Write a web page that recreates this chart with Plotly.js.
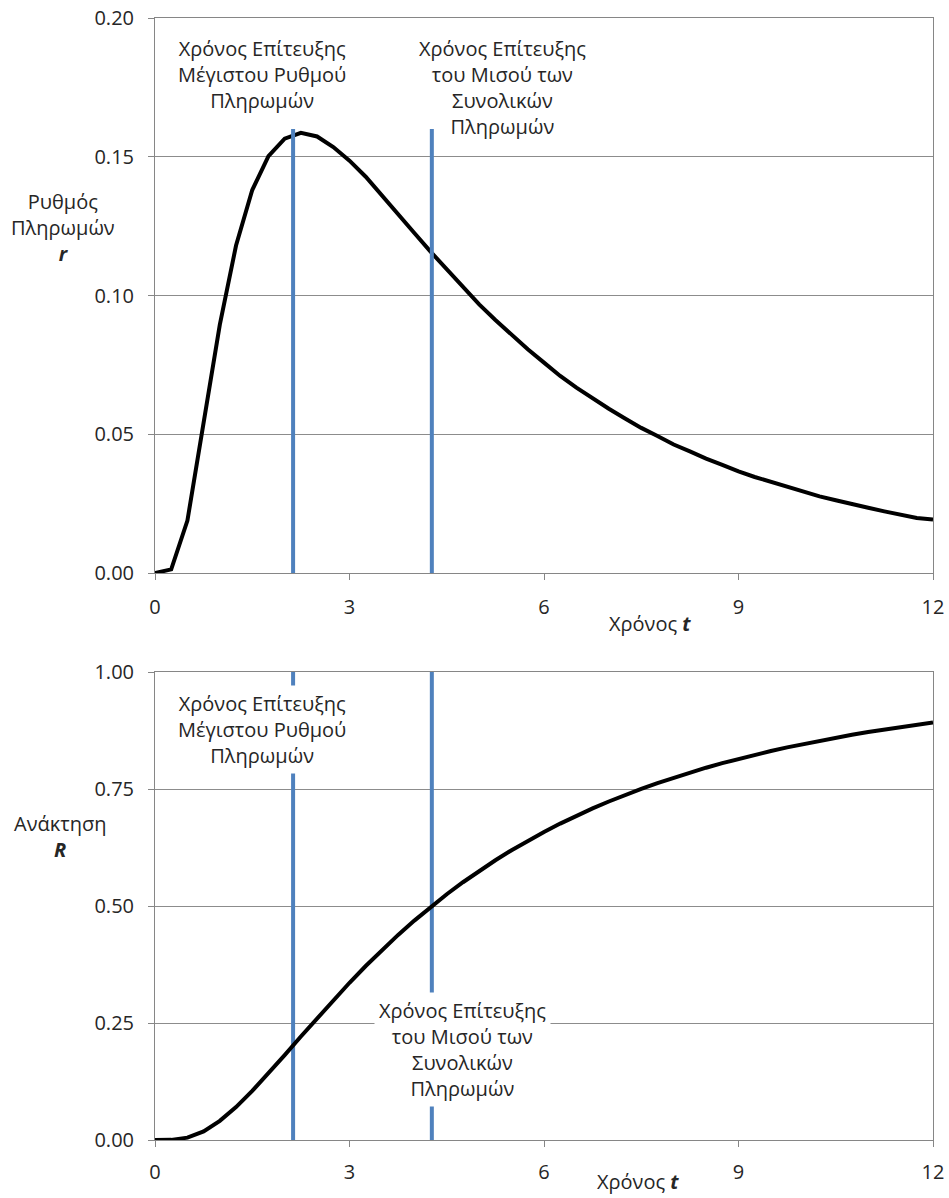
<!DOCTYPE html>
<html>
<head>
<meta charset="utf-8">
<script src="https://cdn.plot.ly/plotly-3.0.1.min.js"></script>
<style>html,body{margin:0;padding:0;background:#fff;}#chart{width:949px;height:1198px;}</style>
</head>
<body>
<div id="chart"></div>
<script>
// time points (years)
const t = [0,0.25,0.5,0.75,1,1.25,1.5,1.75,2,2.25,2.5,2.75,3,3.25,3.5,3.75,4,4.25,4.5,4.75,5,5.25,5.5,5.75,6,6.25,6.5,6.75,7,7.25,7.5,7.75,8,8.25,8.5,8.75,9,9.25,9.5,9.75,10,10.25,10.5,10.75,11,11.25,11.5,11.75,12];
// payment rate r
const rate = [0,0.0013,0.0189,0.0538,0.0895,0.1180,0.1380,0.1502,0.1565,0.1586,0.1573,0.1535,0.1486,0.1428,0.1362,0.1295,0.1225,0.1158,0.1093,0.1030,0.0968,0.0912,0.0857,0.0806,0.0758,0.0710,0.0668,0.0628,0.0592,0.0557,0.0523,0.0494,0.0463,0.0438,0.0412,0.0390,0.0366,0.0346,0.0328,0.0309,0.0293,0.0276,0.0262,0.0247,0.0235,0.0222,0.0210,0.0198,0.0193];
// recovery R
const recovery = [0,0.0003,0.0051,0.0185,0.0409,0.0704,0.1049,0.1424,0.1815,0.2212,0.2605,0.2989,0.3360,0.3717,0.4058,0.4382,0.4688,0.4978,0.5251,0.5508,0.5750,0.5978,0.6192,0.6394,0.6583,0.6761,0.6928,0.7085,0.7233,0.7372,0.7503,0.7626,0.7742,0.7852,0.7955,0.8052,0.8143,0.8230,0.8312,0.8389,0.8462,0.8531,0.8597,0.8659,0.8718,0.8773,0.8826,0.8875,0.8923];
// marker times
const tPeak = 2.13;
const tHalf = 4.27;
const topLineHeight = 0.16;
const bottomLineHeight = 1.0;

const xTicks = [0,3,6,9,12];
const yTopTicks = [0,0.05,0.10,0.15,0.20];
const yBotTicks = [0,0.25,0.5,0.75,1.0];

const labelPeak = 'Χρόνος Επίτευξης<br>Μέγιστου Ρυθμού<br>Πληρωμών';
const labelHalf = 'Χρόνος Επίτευξης<br>του Μισού των<br>Συνολικών<br>Πληρωμών';
const xTitle = 'Χρόνος <b><i>t</i></b>';
const yTopTitle = 'Ρυθμός<br>Πληρωμών<br><b><i>r</i></b>';
const yBotTitle = 'Ανάκτηση<br><b><i>R</i></b>';

const BLUE = '#4F81BD';
const FONT = '"Open Sans", "Noto Sans", sans-serif';
const W = 949, H = 1198;
const L = 155, R = 16, T = 18, B = 58;
const pw = W - L - R, ph = H - T - B;
const px = x => (x - L) / pw;
const py = y => (H - B - y) / ph;

const traces = [
  {x: t, y: rate, xaxis: 'x', yaxis: 'y', mode: 'lines', line: {color: '#000', width: 4}, hoverinfo: 'skip'},
  {x: [tPeak, tPeak], y: [0, topLineHeight], xaxis: 'x', yaxis: 'y', mode: 'lines', line: {color: BLUE, width: 4}},
  {x: [tHalf, tHalf], y: [0, topLineHeight], xaxis: 'x', yaxis: 'y', mode: 'lines', line: {color: BLUE, width: 4}},
  {x: [tPeak, tPeak], y: [0, bottomLineHeight], xaxis: 'x2', yaxis: 'y2', mode: 'lines', line: {color: BLUE, width: 4}},
  {x: [tHalf, tHalf], y: [0, bottomLineHeight], xaxis: 'x2', yaxis: 'y2', mode: 'lines', line: {color: BLUE, width: 4}},
  {x: t, y: recovery, xaxis: 'x2', yaxis: 'y2', mode: 'lines', line: {color: '#000', width: 4}}
];

const axisCommon = {
  showline: true, linecolor: '#868686', linewidth: 1, mirror: true,
  ticks: 'outside', ticklen: 6, tickcolor: '#868686', tickwidth: 1,
  zeroline: false, tickfont: {family: FONT, size: 20, color: '#262626'}
};

const layout = {
  width: W, height: H,
  margin: {l: L, r: R, t: T, b: B},
  paper_bgcolor: '#fff', plot_bgcolor: '#fff',
  showlegend: false,
  font: {family: FONT, size: 20, color: '#262626'},
  xaxis: Object.assign({}, axisCommon, {anchor: 'y', domain: [0,1], range: [0,12], tickvals: xTicks, ticktext: xTicks.map(String), showgrid: false, ticklabelstandoff: 10}),
  yaxis: Object.assign({}, axisCommon, {anchor: 'x', domain: [py(573), 1], range: [0,0.2], tickvals: yTopTicks, ticktext: yTopTicks.map(v => v.toFixed(2)), showgrid: true, gridcolor: '#8c8c8c', gridwidth: 1, ticklabelstandoff: 10}),
  xaxis2: Object.assign({}, axisCommon, {anchor: 'y2', domain: [0,1], range: [0,12], tickvals: xTicks, ticktext: xTicks.map(String), showgrid: false, ticklabelstandoff: 8}),
  yaxis2: Object.assign({}, axisCommon, {anchor: 'x2', domain: [0, py(672)], range: [0,1], tickvals: yBotTicks, ticktext: yBotTicks.map(v => v.toFixed(2)), showgrid: true, gridcolor: '#8c8c8c', gridwidth: 1, ticklabelstandoff: 10}),
  annotations: [
    {xref: 'paper', yref: 'paper', x: px(262), y: py(75), text: labelPeak, showarrow: false, xanchor: 'center', yanchor: 'middle', align: 'center', font: {family: FONT, size: 20, color: '#262626'}},
    {xref: 'paper', yref: 'paper', x: px(502), y: py(87), text: labelHalf, showarrow: false, xanchor: 'center', yanchor: 'middle', align: 'center', font: {family: FONT, size: 20, color: '#262626'}},
    {xref: 'paper', yref: 'paper', x: px(262), y: py(730), text: labelPeak, showarrow: false, xanchor: 'center', yanchor: 'middle', align: 'center', bgcolor: '#fff', borderpad: 4, font: {family: FONT, size: 20, color: '#262626'}},
    {xref: 'paper', yref: 'paper', x: px(462), y: py(1049), text: labelHalf, showarrow: false, xanchor: 'center', yanchor: 'middle', align: 'center', bgcolor: '#fff', borderpad: 4, font: {family: FONT, size: 20, color: '#262626'}},
    {xref: 'paper', yref: 'paper', x: px(63), y: py(227), text: yTopTitle, showarrow: false, xanchor: 'center', yanchor: 'middle', align: 'center', font: {family: FONT, size: 20, color: '#262626'}},
    {xref: 'paper', yref: 'paper', x: px(60), y: py(836), text: yBotTitle, showarrow: false, xanchor: 'center', yanchor: 'middle', align: 'center', font: {family: FONT, size: 20, color: '#262626'}},
    {xref: 'paper', yref: 'paper', x: px(650), y: py(624), text: xTitle, showarrow: false, xanchor: 'center', yanchor: 'middle', font: {family: FONT, size: 20, color: '#262626'}},
    {xref: 'paper', yref: 'paper', x: px(638), y: py(1181), text: xTitle, showarrow: false, xanchor: 'center', yanchor: 'middle', font: {family: FONT, size: 20, color: '#262626'}}
  ]
};

Plotly.newPlot('chart', traces, layout, {staticPlot: true, displayModeBar: false});
</script>
</body>
</html>
